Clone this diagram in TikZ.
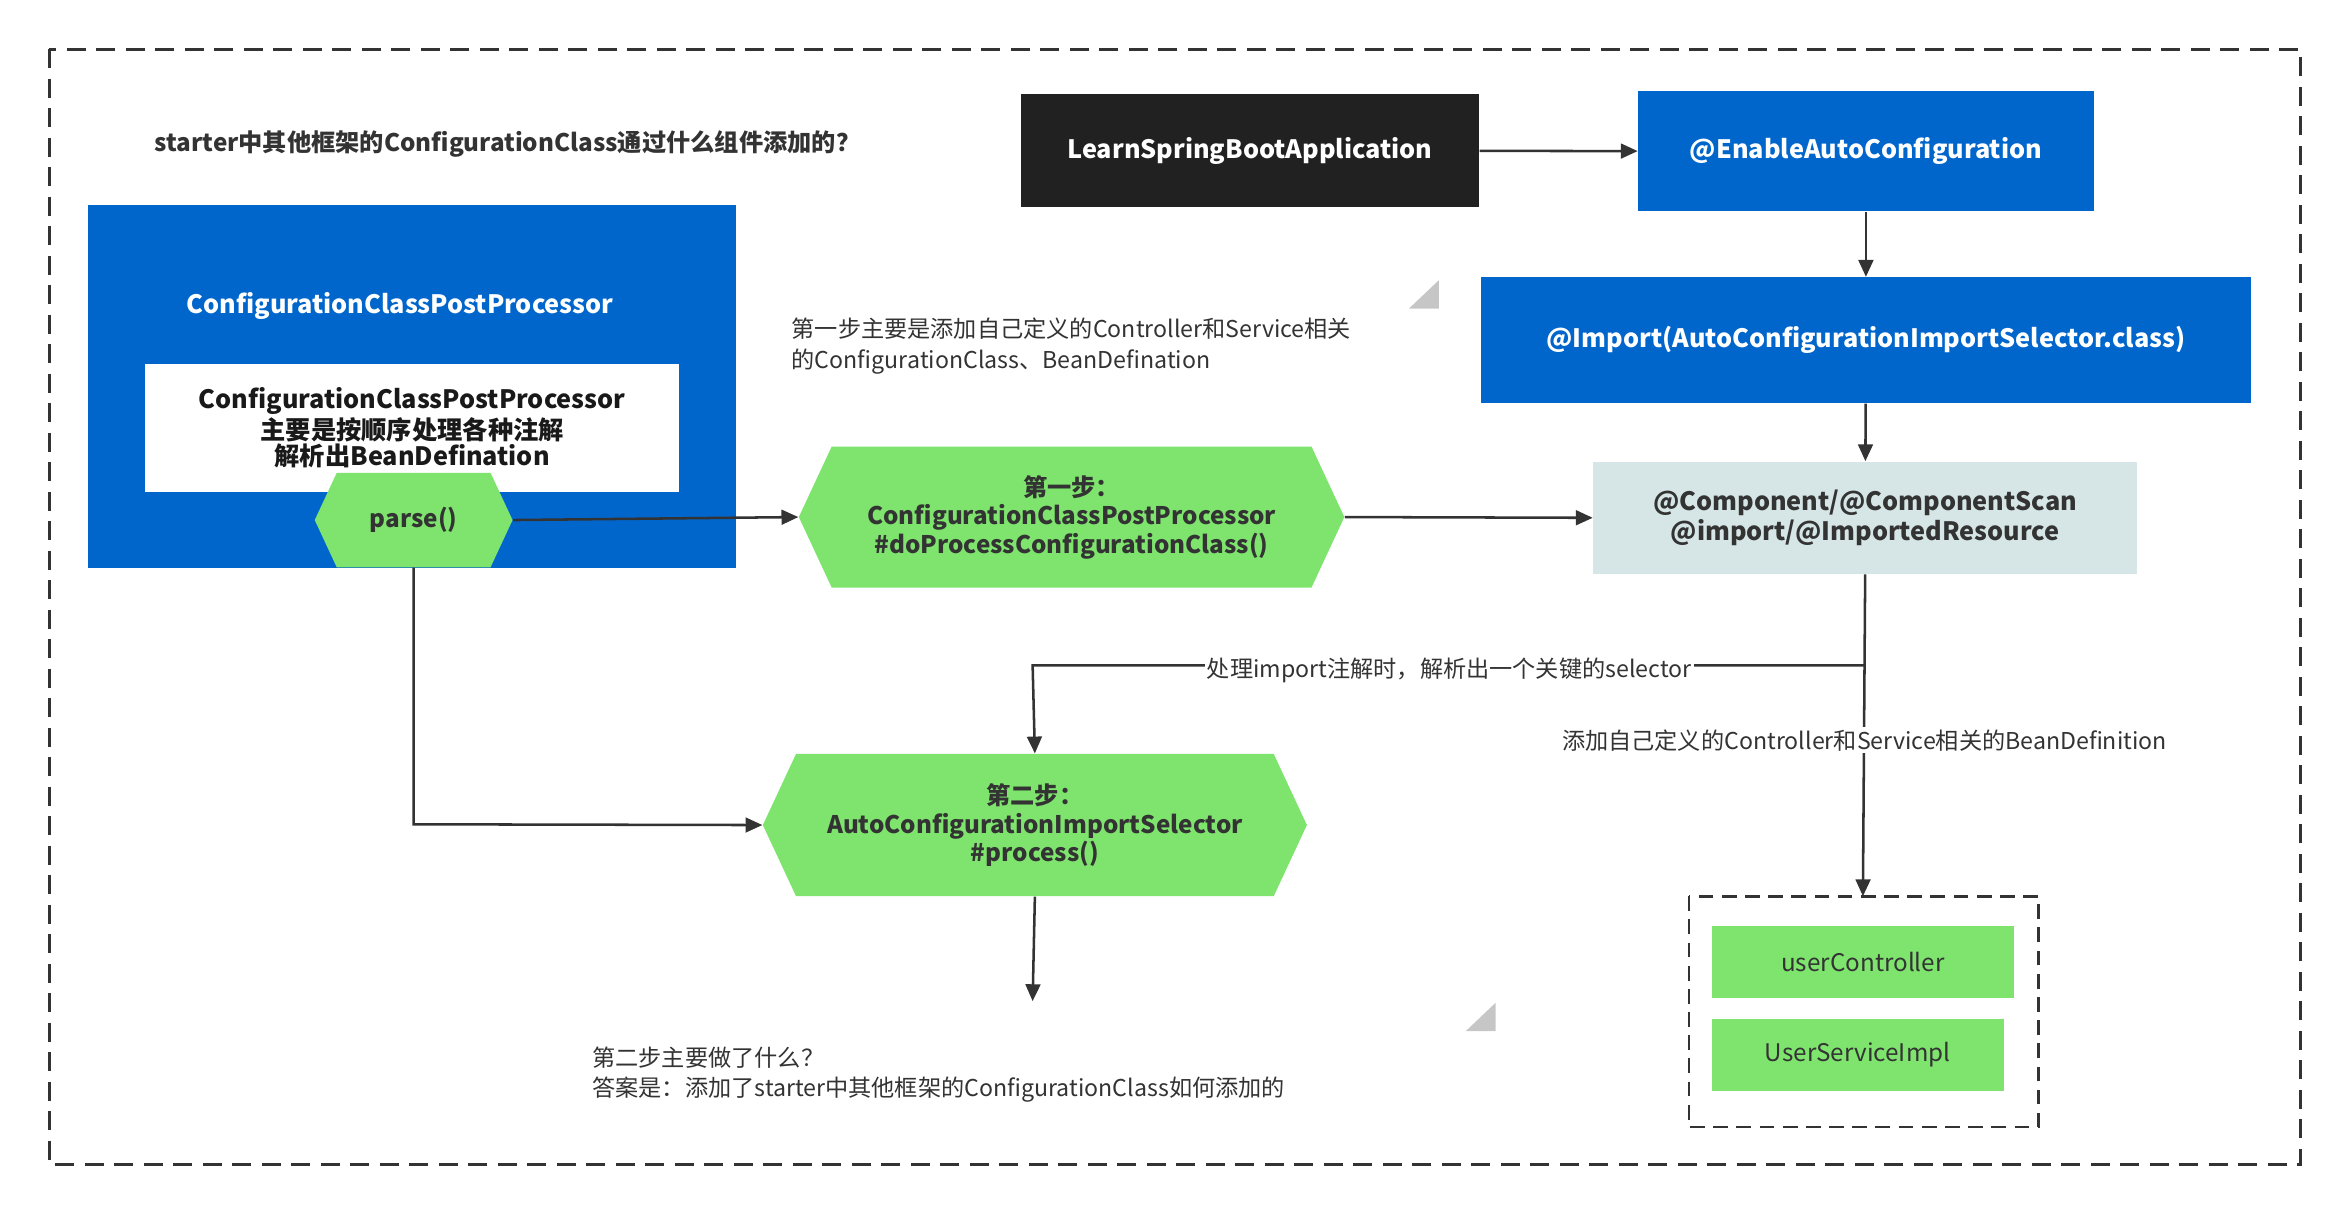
\documentclass[tikz,border=0pt]{standalone}
\usepackage{fontspec}
\setmainfont{Noto Sans CJK SC}
\usetikzlibrary{shapes.symbols,arrows.meta}
\definecolor{bl}{HTML}{0066CC}
\definecolor{gr}{HTML}{7EE46E}
\definecolor{gy}{HTML}{D6E6E6}
\definecolor{ln}{HTML}{333333}
\begin{document}
\begin{tikzpicture}[x=0.25mm,y=-0.25mm,
  box/.style={draw=none,inner sep=0,align=center,font=\bfseries\fontsize{12}{14}\selectfont},
  hexa/.style={signal,signal to=east and west,signal pointer angle=130,fill=gr,inner sep=0,align=center,font=\bfseries\fontsize{11.5}{13.5}\selectfont,text=ln},
  gb/.style={fill=gr,inner sep=0,font=\fontsize{11.5}{13}\selectfont,text=ln},
  arr/.style={draw=ln,line width=1.2pt,-{Triangle[length=8pt,width=7pt]}},
  ln/.style={draw=ln,line width=1.2pt},
  txt/.style={inner sep=0,align=left,anchor=west,font=\fontsize{11}{14.5}\selectfont,text=ln},
  tri/.style={fill=gray!45,draw=none}]
\useasboundingbox (0,0) rectangle (1568,811);
\draw[dashed,line width=1.2pt,draw=ln,dash pattern=on 9pt off 5pt] (33,33) rectangle (1535,777);
\node[txt,font=\bfseries\fontsize{11.5}{14}\selectfont] (title) at (103,96) {starter中其他框架的ConfigurationClass通过什么组件添加的？};
\node[box,fill=black!87,text=white,minimum width=306*0.25mm,minimum height=75*0.25mm] (lsba) at (834,100.5) {LearnSpringBootApplication};
\node[box,fill=bl,text=white,minimum width=304*0.25mm,minimum height=80*0.25mm] (eac) at (1245,101) {@EnableAutoConfiguration};
\node[box,fill=bl,text=white,minimum width=514*0.25mm,minimum height=84*0.25mm] (imp) at (1245,227) {@Import(AutoConfigurationImportSelector.class)};
\node[box,fill=gy,text=ln,minimum width=363*0.25mm,minimum height=75*0.25mm] (comp) at (1244.5,345.5) {@Component/@ComponentScan\\@import/@ImportedResource};
\node[box,fill=bl,minimum width=432*0.25mm,minimum height=242*0.25mm] (ccpp) at (275,258) {};
\node[box,text=white] (ccpt) at (267,204) {ConfigurationClassPostProcessor};
\node[box,fill=white,text=black!90,minimum width=356*0.25mm,minimum height=85*0.25mm,font=\bfseries\fontsize{12}{12.5}\selectfont] (inner) at (275,285.5) {ConfigurationClassPostProcessor\\主要是按顺序处理各种注解\\解析出BeanDefination};
\node[hexa,minimum width=132*0.25mm,minimum height=63*0.25mm] (parse) at (276,347) {parse()};
\node[hexa,minimum width=364*0.25mm,minimum height=94*0.25mm] (s1) at (715,345) {第一步：\\ConfigurationClassPostProcessor\\\#doProcessConfigurationClass()};
\node[hexa,minimum width=363*0.25mm,minimum height=95*0.25mm] (s2) at (690.5,550.5) {第二步：\\AutoConfigurationImportSelector\\\#process()};
\node[txt] (t1) at (528,231) {第一步主要是添加自己定义的Controller和Service相关\\的ConfigurationClass、BeanDefination};
\node[txt] (t2) at (395,717) {第二步主要做了什么？\\答案是：添加了starter中其他框架的ConfigurationClass如何添加的};
\draw[dashed,line width=1.2pt,draw=ln,dash pattern=on 7pt off 4pt] (1127,598) rectangle (1360,752);
\node[gb,minimum width=202*0.25mm,minimum height=48*0.25mm] (uc) at (1243,642) {userController};
\node[gb,minimum width=195*0.25mm,minimum height=48*0.25mm] (us) at (1239.5,704) {UserServiceImpl};
\coordinate (dtop) at (1243,598);
\coordinate (br) at (1244,444);
\coordinate (bl2) at (689,444);
\coordinate (pc) at (276,550);
\coordinate (end) at (689,668);
\draw[arr] (lsba) -- (eac);
\draw[arr] (eac) -- (imp);
\draw[arr] (imp) -- (comp);
\draw[arr] (parse.east) -- (s1.west);
\draw[arr] (s1.east) -- (comp.west);
\draw[arr] (comp.south) -- (dtop);
\draw[arr] (br) -- (bl2) -- (s2.north);
\draw[arr] (parse.south) -- (pc) -- (s2.west);
\draw[arr] (s2.south) -- (end);
\node[fill=white,inner sep=1pt,font=\fontsize{11}{13}\selectfont,text=ln] (l1) at (967,447) {处理import注解时，解析出一个关键的selector};
\node[fill=white,inner sep=1pt,font=\fontsize{11}{13}\selectfont,text=ln] (l2) at (1244,494) {添加自己定义的Controller和Service相关的BeanDefinition};
\fill[tri] (960,187) -- (960,206) -- (940,206) -- cycle;
\fill[tri] (998,669) -- (998,688) -- (978,688) -- cycle;
\end{tikzpicture}
\end{document}
